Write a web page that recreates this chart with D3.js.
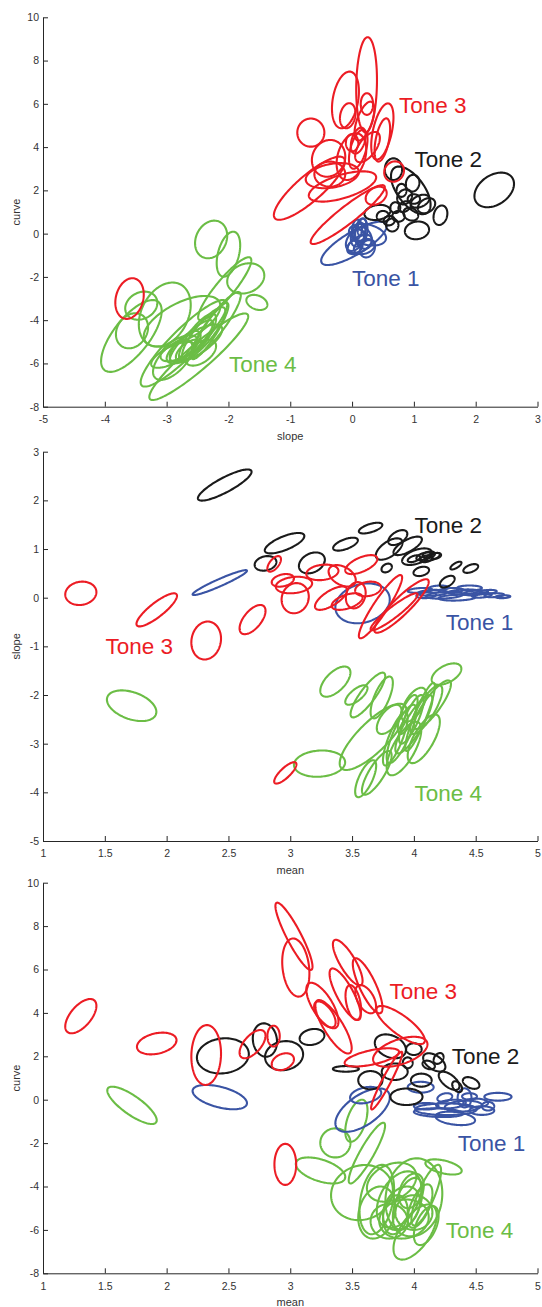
<!DOCTYPE html>
<html><head><meta charset="utf-8">
<script src="https://cdn.jsdelivr.net/npm/d3@7"></script>
<style>body{margin:0;background:#fff} svg{display:block}</style>
</head><body><svg id="c" width="542" height="1307"></svg>
<script>
// Each ellipse: [centerX, centerY, halfWidthX, halfHeightY, tilt correlation]
const toneNames = ["Tone 1", "Tone 2", "Tone 3", "Tone 4"];

// ---------- Panel 1: slope (x) vs curve (y) ----------
const p1Tone1 = [
  [0.03,-0.45,0.53,1.0,0.8],[0.10,-0.05,0.12,0.55,0.3],[0.15,0.1,0.1,0.6,0.2],[0.05,-0.3,0.15,0.5,0.4],
  [0.12,-0.5,0.2,0.45,0.5],[0.18,-0.2,0.14,0.5,-0.2],[0.08,0.2,0.08,0.45,0.1],[0.2,-0.6,0.17,0.35,0.3],
  [0.1,-0.1,0.09,0.3,0.0],[0.16,0.3,0.07,0.4,0.3],[0.05,-0.6,0.12,0.3,0.2],[0.25,-0.7,0.12,0.4,0.2],
  [0.25,-0.05,0.3,0.5,-0.3]
];
const p1Tone2 = [
  [2.30,2.02,0.32,0.8,0.35],[1.05,0.15,0.196,0.41,0.1],[1.43,0.85,0.112,0.45,0.2],[0.95,2.0,0.32,1.1,-0.6],
  [0.67,2.98,0.14,0.5,0.0],[0.98,2.33,0.11,0.39,0.1],[0.41,0.98,0.21,0.35,0.2],[1.205,1.29,0.14,0.35,0.3],
  [0.85,1.7,0.12,0.35,0.2],[0.75,0.8,0.1,0.25,0.0],[0.6,0.6,0.09,0.22,0.1],[0.85,1.25,0.1,0.25,0.3],
  [0.95,0.9,0.12,0.3,-0.2],[0.7,1.2,0.08,0.25,0.0],[1.1,1.5,0.15,0.3,0.4],[0.5,0.8,0.1,0.25,0.0],
  [0.8,2.0,0.08,0.3,0.0],[1.0,1.6,0.1,0.22,0.0],[0.65,0.4,0.1,0.3,0.0]
];
const p1Tone3 = [
  [0.235,6.88,0.168,2.2,0.1],[-0.107,6.18,0.218,1.31,0.3],[-0.07,5.45,0.126,0.58,0.2],[0.24,5.99,0.1,0.5,0.0],
  [0.49,4.72,0.18,1.3,0.5],[0.49,4.33,0.126,1.0,0.5],[-0.667,4.67,0.219,0.65,0.0],[-0.38,3.48,0.27,0.85,0.1],
  [-0.01,3.56,0.24,1.08,0.3],[0.1,3.9,0.15,0.9,0.5],[-0.69,2.1,0.575,1.46,0.85],[-0.07,0.88,0.6,1.36,0.93],
  [-0.155,2.18,0.545,0.7,0.6],[-0.32,2.68,0.43,0.58,0.3],[-0.36,2.75,0.25,0.58,0.0],[0.68,2.87,0.16,0.47,0.1],
  [0.39,1.75,0.17,0.42,0.3],[0.1,4.3,0.12,0.6,0.4],[0.2,5.2,0.16,0.9,0.6],[-3.60,-3.0,0.23,0.94,0.2],
  [0.0,4.2,0.1,0.4,0.0],[0.25,4.0,0.2,0.7,0.6]
];
const p1Tone4 = [
  [-2.28,-0.27,0.26,0.87,0.2],[-2.0,-0.95,0.19,1.04,0.4],[-1.72,-2.07,0.30,0.7,0.2],[-1.54,-3.18,0.17,0.35,-0.3],
  [-3.41,-3.33,0.26,0.65,0.2],[-3.56,-4.49,0.26,0.81,0.2],[-3.57,-4.73,0.49,1.66,0.7],[-3.03,-3.74,0.42,1.48,0.3],
  [-2.75,-4.05,0.62,1.17,0.6],[-2.72,-5.07,0.7,2.0,0.9],[-2.48,-5.69,0.8,2.0,0.93],[-2.06,-2.55,0.43,1.46,0.9],
  [-2.6,-5.0,0.35,1.0,0.85],[-2.5,-4.8,0.3,1.1,0.8],[-2.7,-5.2,0.25,0.7,0.7],[-2.4,-4.6,0.35,1.2,0.85],
  [-2.65,-5.4,0.2,0.5,0.6],[-2.55,-5.1,0.45,0.9,0.75],[-2.3,-4.5,0.3,1.3,0.9],[-2.8,-5.3,0.3,0.6,0.6],
  [-2.45,-5.5,0.25,0.6,0.5],[-2.2,-4.2,0.4,1.5,0.9],[-2.9,-5.6,0.35,0.6,0.7],[-2.9,-5.83,0.32,0.93,0.6]
];
const p1Labels = [[0.0,-2.41],[1.01,3.09],[0.758,5.59],[-1.99,-6.41]];

// ---------- Panel 2: mean (x) vs slope (y) ----------
const p2Tone1 = [
  [2.43,0.31,0.22,0.256,0.95],[3.585,-0.116,0.22,0.41,0.2],
  [4.05,0.15,0.1,0.05,0.3],[4.15,0.1,0.12,0.06,0.2],[4.25,0.05,0.15,0.07,0.3],[4.3,0.15,0.1,0.05,0.2],
  [4.4,0.12,0.12,0.05,0.3],[4.35,0.0,0.15,0.06,0.2],[4.5,0.1,0.1,0.05,0.4],[4.55,0.05,0.08,0.05,0.3],
  [4.65,0.05,0.08,0.04,0.3],[4.72,0.02,0.06,0.03,0.2],[4.2,0.2,0.08,0.05,0.2],[4.45,0.2,0.1,0.05,0.0],
  [4.1,0.05,0.08,0.06,0.2],[4.6,0.12,0.07,0.04,0.3]
];
const p2Tone2 = [
  [2.47,2.315,0.217,0.32,0.85],[2.954,1.12,0.16,0.21,0.7],[2.80,0.705,0.088,0.15,0.2],[3.175,0.715,0.105,0.215,0.3],
  [3.447,1.1,0.1,0.133,0.6],[3.65,1.43,0.095,0.11,0.6],[3.80,1.0,0.108,0.22,0.6],[3.87,1.235,0.077,0.154,0.5],
  [3.95,1.065,0.115,0.19,0.7],[4.025,0.843,0.12,0.17,0.5],[4.08,0.85,0.06,0.08,0.5],[4.12,0.88,0.05,0.07,0.3],
  [4.15,0.84,0.06,0.08,0.6],[4.18,0.86,0.04,0.06,0.3],[4.0,0.8,0.05,0.07,0.5],[4.10,0.8,0.05,0.07,0.3],
  [3.78,0.61,0.042,0.09,0.3],[4.06,0.54,0.063,0.096,0.3],[4.27,0.33,0.06,0.12,0.5],[4.34,0.66,0.045,0.08,0.7],
  [4.46,0.6,0.06,0.09,0.5]
];
const p2Tone3 = [
  [1.306,0.09,0.126,0.24,0.1],[1.92,-0.25,0.164,0.34,0.85],[2.32,-0.88,0.12,0.39,0.1],[2.695,-0.45,0.105,0.3,0.6],
  [2.87,0.695,0.055,0.16,0.6],[2.94,0.356,0.09,0.13,0.3],[3.03,0.26,0.147,0.17,0.2],[3.04,-0.01,0.11,0.31,0.1],
  [3.26,0.52,0.13,0.16,0.2],[3.42,0.45,0.11,0.22,-0.4],[3.575,0.68,0.13,0.195,0.6],[3.33,-0.01,0.13,0.24,0.7],
  [3.46,-0.08,0.125,0.17,0.5],[3.63,0.18,0.105,0.15,0.2],[3.73,-0.185,0.175,0.65,0.92],[3.84,-0.29,0.19,0.38,0.93],
  [3.90,-0.17,0.22,0.55,0.9],[3.53,0.05,0.08,0.27,0.2],[2.96,-3.6,0.09,0.22,0.8]
];
const p2Tone4 = [
  [1.717,-2.22,0.2,0.315,-0.4],[3.237,-3.41,0.207,0.27,0.1],[3.365,-1.725,0.122,0.31,0.6],[3.67,-2.86,0.27,0.68,0.8],
  [3.535,-2.0,0.09,0.2,0.7],[3.628,-2.0,0.14,0.46,0.85],[3.74,-2.05,0.09,0.43,0.7],[3.61,-3.72,0.085,0.38,0.7],
  [3.70,-3.6,0.12,0.45,0.8],[4.264,-1.57,0.12,0.22,0.5],
  [3.98,-2.5,0.1,0.5,0.8],[4.0,-2.6,0.15,0.6,0.85],[3.95,-2.4,0.08,0.4,0.7],[4.05,-2.45,0.12,0.7,0.9],
  [3.9,-2.8,0.12,0.6,0.8],[4.1,-2.3,0.13,0.5,0.8],[3.85,-2.9,0.1,0.55,0.8],[4.15,-2.2,0.15,0.5,0.85],
  [4.0,-2.2,0.1,0.35,0.6],[3.92,-3.1,0.14,0.55,0.7],[4.08,-2.9,0.13,0.5,0.7],[3.8,-2.5,0.1,0.3,0.6]
];
const p2Labels = [[4.257,-0.664],[4.005,1.335],[1.505,-1.164],[4.005,-4.17]];

// ---------- Panel 3: mean (x) vs curve (y) ----------
const p3Tone1 = [
  [2.43,0.12,0.22,0.56,-0.5],[3.585,-0.48,0.22,1.0,0.6],[3.61,0.21,0.126,0.38,0.3],[4.055,0.575,0.105,0.25,0.0],
  [4.26,-0.44,0.25,0.27,0.0],[4.335,-0.86,0.16,0.31,-0.3],[4.41,0.085,0.056,0.44,0.0],[4.68,0.135,0.11,0.18,0.0],
  [4.4,-0.3,0.15,0.25,0.2],[4.5,-0.15,0.1,0.2,0.0],[4.3,-0.2,0.12,0.2,0.3],[4.55,-0.5,0.1,0.2,0.0],
  [4.2,-0.6,0.2,0.2,-0.2],[4.45,0.15,0.06,0.15,0.0],[4.6,-0.3,0.05,0.2,0.0],[4.1,-0.3,0.1,0.15,0.0],
  [4.25,0.1,0.06,0.2,0.3]
];
const p3Tone2 = [
  [2.455,2.02,0.21,0.81,0.1],[2.795,2.75,0.098,0.77,-0.1],[2.95,2.03,0.154,0.67,0.1],[3.176,2.89,0.1,0.37,0.2],
  [3.45,1.42,0.105,0.13,0.0],[3.648,0.9,0.098,0.42,0.0],[3.81,2.46,0.126,0.55,-0.3],[3.845,1.29,0.105,0.38,0.0],
  [3.94,0.135,0.13,0.38,0.0],[4.0,2.33,0.063,0.27,0.0],[4.165,1.72,0.09,0.42,-0.5],[4.285,0.87,0.084,0.42,-0.6],
  [4.463,0.77,0.067,0.27,-0.4],[4.06,0.9,0.084,0.3,0.0],[4.12,1.6,0.05,0.2,-0.3],[4.2,1.9,0.04,0.25,0.3],
  [3.95,1.7,0.04,0.25,0.0],[4.35,0.6,0.04,0.25,-0.4]
];
const p3Tone3 = [
  [1.306,3.85,0.126,0.79,0.6],[1.92,2.59,0.16,0.5,0.3],[2.32,2.06,0.12,1.38,0.05],[2.695,2.56,0.105,0.65,0.6],
  [2.865,2.93,0.05,0.48,0.0],[2.94,1.75,0.09,0.39,0.3],[2.96,-2.98,0.088,0.945,0.0],[3.03,7.53,0.15,1.55,-0.9],
  [3.045,6.09,0.11,1.34,-0.2],[3.26,4.34,0.13,1.05,-0.7],[3.35,3.36,0.147,1.23,-0.8],[3.28,3.93,0.087,0.6,-0.6],
  [3.465,6.32,0.12,1.05,-0.8],[3.444,4.86,0.126,1.19,-0.8],[3.51,4.48,0.063,0.8,-0.4],[3.626,5.25,0.12,1.27,-0.8],
  [3.61,4.63,0.084,0.65,-0.5],[3.893,3.44,0.196,0.88,-0.8],[3.89,2.21,0.22,0.69,0.5],[3.66,1.95,0.22,0.42,0.6],
  [3.78,0.88,0.126,1.33,0.95]
];
const p3Tone4 = [
  [1.72,-0.26,0.2,0.86,-0.8],[3.245,-3.26,0.2,0.6,-0.5],[3.365,-1.99,0.122,0.67,0.0],[3.535,-0.97,0.09,0.97,0.5],
  [3.58,-4.28,0.25,1.27,0.1],[3.62,-2.46,0.147,1.4,0.9],[3.7,-4.6,0.14,1.6,0.3],[4.0,-4.5,0.23,1.8,0.1],
  [4.24,-3.1,0.147,0.35,-0.5],[4.01,-6.1,0.175,1.27,0.6],
  [3.9,-5.0,0.15,1.0,0.3],[3.95,-4.8,0.12,1.2,0.5],[3.85,-5.3,0.1,0.9,0.2],[4.0,-5.2,0.15,0.8,0.0],
  [3.88,-4.6,0.18,1.3,0.4],[4.05,-4.9,0.1,1.0,0.6],[3.8,-5.6,0.15,0.8,0.0],[3.92,-5.5,0.2,0.9,0.1],
  [4.1,-4.4,0.12,1.4,0.8],[3.7,-5.2,0.15,1.2,0.2],[3.98,-4.2,0.1,0.8,0.3],[3.82,-3.8,0.2,0.9,0.3],
  [4.1,-5.8,0.1,0.9,0.5]
];
const p3Labels = [[4.355,-2.36],[4.307,1.63],[3.803,4.63],[4.257,-6.36]];

// ticks
const p1XTicks = [-5,-4,-3,-2,-1,0,1,2,3];
const p1YTicks = [-8,-6,-4,-2,0,2,4,6,8,10];
const p2XTicks = [1,1.5,2,2.5,3,3.5,4,4.5,5];
const p2YTicks = [-5,-4,-3,-2,-1,0,1,2,3];
const p3XTicks = [1,1.5,2,2.5,3,3.5,4,4.5,5];
const p3YTicks = [-8,-6,-4,-2,0,2,4,6,8,10];

const toneColors = ["#3a54a4", "#1a1a1a", "#ec1c24", "#6bbd45"];
const drawOrder = [3, 0, 1, 2]; // green, blue, black, red

const panels = [
  {top:17.3, height:389.4, xd:[-5,3], yd:[-8,10], xt:p1XTicks, yt:p1YTicks, xlab:"slope", ylab:"curve",
   tones:[p1Tone1,p1Tone2,p1Tone3,p1Tone4], labels:p1Labels},
  {top:451.7, height:389.3, xd:[1,5], yd:[-5,3], xt:p2XTicks, yt:p2YTicks, xlab:"mean", ylab:"slope",
   tones:[p2Tone1,p2Tone2,p2Tone3,p2Tone4], labels:p2Labels},
  {top:882.7, height:390.6, xd:[1,5], yd:[-8,10], xt:p3XTicks, yt:p3YTicks, xlab:"mean", ylab:"curve",
   tones:[p3Tone1,p3Tone2,p3Tone3,p3Tone4], labels:p3Labels}
];

const svg = d3.select("#c");
const left = 43, right = 537.5;
const fontFam = "'Liberation Sans', Arial, Helvetica, sans-serif";
const ts = d3.range(0, 2*Math.PI, Math.PI/60);

function ellipsePts(e){
  const [cx,cy,w,h,r] = e;
  const s = Math.sqrt(1 - r*r);
  return ts.map(t => [cx + w*Math.cos(t), cy + h*(r*Math.cos(t) + s*Math.sin(t))]);
}

panels.forEach(p => {
  const x = d3.scaleLinear().domain(p.xd).range([left, right]);
  const y = d3.scaleLinear().domain(p.yd).range([p.top + p.height, p.top]);
  const g = svg.append("g");

  const fmt = d => String(d);
  const ax = g.append("g").attr("transform", `translate(0,${p.top + p.height})`)
    .call(d3.axisBottom(x).tickValues(p.xt).tickFormat(fmt).tickSizeInner(-5).tickSizeOuter(0).tickPadding(9));
  const ay = g.append("g").attr("transform", `translate(${left},0)`)
    .call(d3.axisLeft(y).tickValues(p.yt).tickFormat(fmt).tickSizeInner(-5).tickSizeOuter(0).tickPadding(4));
  [ax, ay].forEach(a => {
    a.select(".domain").attr("stroke", "#262626").attr("stroke-width", 1);
    a.selectAll(".tick line").attr("stroke", "#262626");
    a.selectAll("text").attr("fill", "#333").style("font-size", "10.5px").style("font-family", fontFam);
  });

  g.append("text").attr("x", (left+right)/2).attr("y", p.top + p.height + 33)
    .attr("text-anchor", "middle").attr("fill", "#333")
    .style("font-size", "11px").style("font-family", fontFam).text(p.xlab);
  g.append("text").attr("transform", `translate(19.5,${p.top + p.height/2}) rotate(-90)`)
    .attr("text-anchor", "middle").attr("fill", "#333")
    .style("font-size", "11px").style("font-family", fontFam).text(p.ylab);

  const line = d3.line().x(d => x(d[0])).y(d => y(d[1])).curve(d3.curveLinearClosed);
  drawOrder.forEach(k => {
    g.append("g").selectAll("path").data(p.tones[k]).join("path")
      .attr("d", e => line(ellipsePts(e)))
      .attr("fill", "none").attr("stroke", toneColors[k]).attr("stroke-width", 2.1);
  });

  p.labels.forEach((l, k) => {
    g.append("text").attr("x", x(l[0])).attr("y", y(l[1]))
      .attr("fill", toneColors[k]).style("font-size", "22.5px").style("font-family", fontFam)
      .text(toneNames[k]);
  });
});
</script></body></html>
